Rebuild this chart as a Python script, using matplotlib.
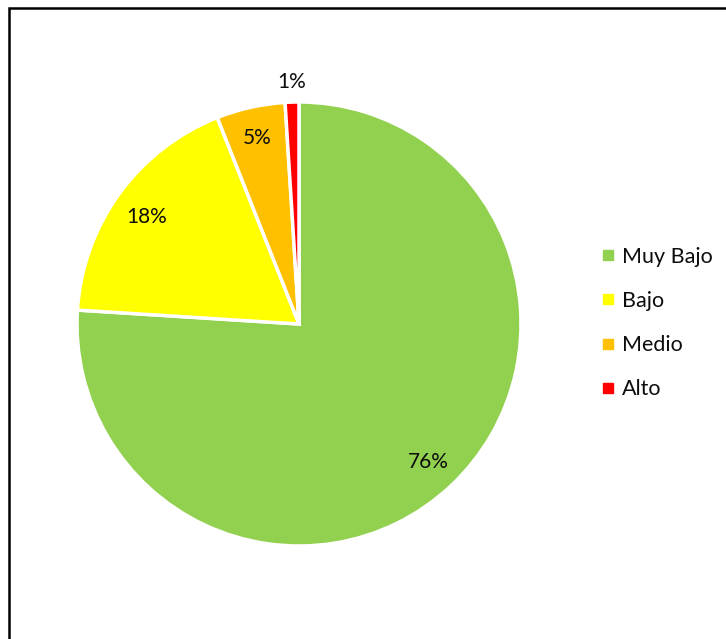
# Bibliotecas para el gráfico circular.
import numpy as np
import matplotlib
matplotlib.use("Agg")
import matplotlib.pyplot as plt
from matplotlib.lines import Line2D
from matplotlib.patches import Rectangle


# ==========================================================
# 1. DATOS
# ==========================================================

categorias = ["Muy Bajo", "Bajo", "Medio", "Alto"]
porcentajes = [76, 18, 5, 1]
colores = ["#92D050", "#FFFF00", "#FFC000", "#FF0000"]

# Distancia relativa de cada etiqueta al centro del círculo.
distancia_etiquetas = [0.85, 0.84, 0.86, 1.09]
# Pequeño giro (grados) de cada etiqueta respecto al centro del sector.
giro_etiquetas = [0, 1, 0, 0]


# ==========================================================
# 2. FIGURA
# ==========================================================

ancho_px, alto_px = 726, 639
plt.rcParams["font.family"] = ["Lato", "DejaVu Sans"]

fig = plt.figure(figsize=(ancho_px / 100, alto_px / 100), dpi=100)

# Posición del círculo en píxeles (centro y radio).
cx, cy, radio = 299, 324, 222
margen = 1.02
lado = 2 * radio * margen
ax = fig.add_axes([
    (cx - lado / 2) / ancho_px,
    1 - (cy + lado / 2) / alto_px,
    lado / ancho_px,
    lado / alto_px,
])

sectores, _ = ax.pie(
    porcentajes,
    colors=colores,
    startangle=90,
    counterclock=False,
    wedgeprops={"edgecolor": "white", "linewidth": 2.5},
)

ax.set_xlim(-margen, margen)
ax.set_ylim(-margen, margen)
ax.set_aspect("equal")
ax.axis("off")

# Etiquetas de porcentaje.
for sector, valor, dist, giro in zip(sectores, porcentajes,
                                     distancia_etiquetas, giro_etiquetas):
    angulo = np.deg2rad((sector.theta1 + sector.theta2) / 2 + giro)
    ax.text(
        dist * np.cos(angulo),
        dist * np.sin(angulo),
        f"{valor}%",
        ha="center",
        va="center",
        fontsize=15,
        color="#0d0d0d",
    )


# ==========================================================
# 3. LEYENDA
# ==========================================================

marcadores = [
    Line2D([0], [0], marker="s", linestyle="none", markersize=6.5,
           markerfacecolor=c, markeredgecolor=c)
    for c in colores
]

fig.legend(
    marcadores,
    categorias,
    loc="center left",
    bbox_to_anchor=(580 / ancho_px, 1 - 323 / alto_px),
    frameon=False,
    fontsize=15.5,
    handlelength=0.8,
    handletextpad=0.25,
    labelspacing=1.12,
    labelcolor="#0d0d0d",
)


# ==========================================================
# 4. MARCO
# ==========================================================

fig.patches.append(Rectangle(
    (9 / ancho_px, -0.1),
    2.0,
    1 - 8 / alto_px + 0.1,
    transform=fig.transFigure,
    fill=False,
    edgecolor="black",
    linewidth=1.8,
))

fig.savefig("out.png", dpi=100)
